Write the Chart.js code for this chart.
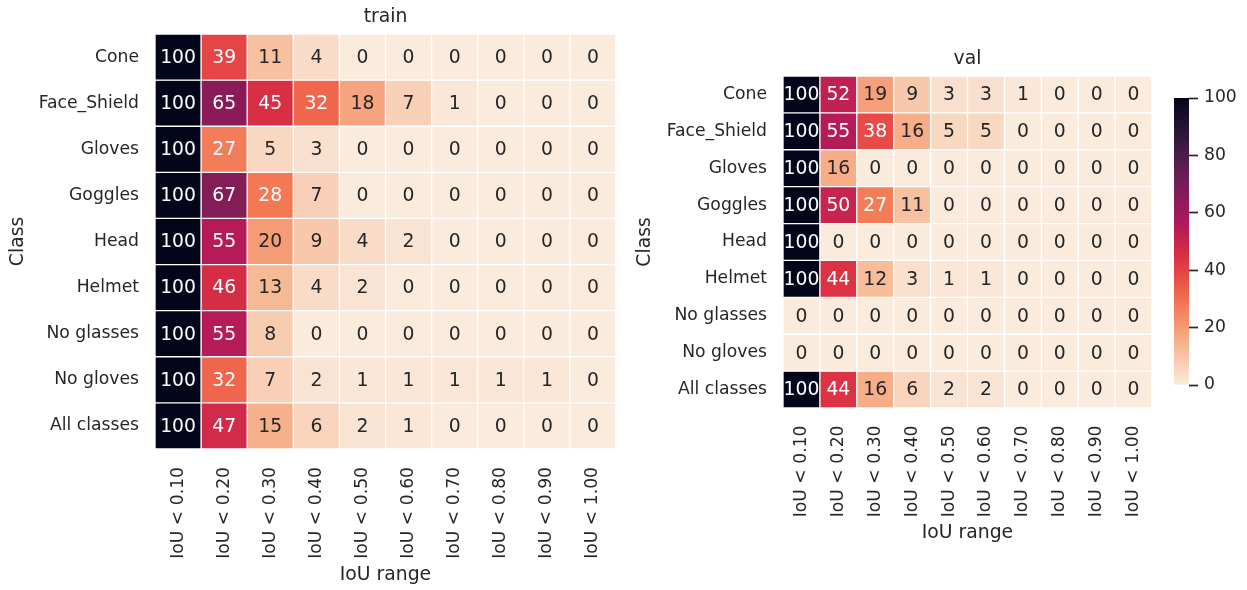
<!DOCTYPE html>
<html>
<head>
<meta charset="utf-8">
<script src="https://cdn.jsdelivr.net/npm/chart.js@4/dist/chart.umd.min.js"></script>
<style>
  html, body { margin: 0; padding: 0; background: #ffffff; }
  #wrap { position: relative; width: 1247px; height: 590px; background: #ffffff; }
  canvas { position: absolute; left: 0; top: 0; }
</style>
</head>
<body>
<div id="wrap">
  <canvas id="train" width="1247" height="590"></canvas>
  <canvas id="val" width="1247" height="590"></canvas>
  <canvas id="cbar" width="1247" height="590"></canvas>
</div>
<script>
// ---------------- data ----------------
const classes = ['Cone', 'Face_Shield', 'Gloves', 'Goggles', 'Head', 'Helmet', 'No glasses', 'No gloves', 'All classes'];
const iouRanges = ['IoU < 0.10', 'IoU < 0.20', 'IoU < 0.30', 'IoU < 0.40', 'IoU < 0.50',
                   'IoU < 0.60', 'IoU < 0.70', 'IoU < 0.80', 'IoU < 0.90', 'IoU < 1.00'];
const trainValues = [
  [100, 39, 11, 4, 0, 0, 0, 0, 0, 0],
  [100, 65, 45, 32, 18, 7, 1, 0, 0, 0],
  [100, 27, 5, 3, 0, 0, 0, 0, 0, 0],
  [100, 67, 28, 7, 0, 0, 0, 0, 0, 0],
  [100, 55, 20, 9, 4, 2, 0, 0, 0, 0],
  [100, 46, 13, 4, 2, 0, 0, 0, 0, 0],
  [100, 55, 8, 0, 0, 0, 0, 0, 0, 0],
  [100, 32, 7, 2, 1, 1, 1, 1, 1, 0],
  [100, 47, 15, 6, 2, 1, 0, 0, 0, 0]
];
const valValues = [
  [100, 52, 19, 9, 3, 3, 1, 0, 0, 0],
  [100, 55, 38, 16, 5, 5, 0, 0, 0, 0],
  [100, 16, 0, 0, 0, 0, 0, 0, 0, 0],
  [100, 50, 27, 11, 0, 0, 0, 0, 0, 0],
  [100, 0, 0, 0, 0, 0, 0, 0, 0, 0],
  [100, 44, 12, 3, 1, 1, 0, 0, 0, 0],
  [0, 0, 0, 0, 0, 0, 0, 0, 0, 0],
  [0, 0, 0, 0, 0, 0, 0, 0, 0, 0],
  [100, 44, 16, 6, 2, 2, 0, 0, 0, 0]
];
const colorbarTicks = [0, 20, 40, 60, 80, 100];
const valueRange = [0, 100];

// ---------------- colour map (seaborn "rocket", reversed) ----------------
const rocketStops = [
  [0.000, [3, 5, 26]],
  [1 / 7, [53, 25, 62]],
  [2 / 7, [112, 31, 87]],
  [3 / 7, [173, 23, 89]],
  [4 / 7, [225, 51, 66]],
  [5 / 7, [243, 118, 81]],
  [6 / 7, [246, 180, 143]],
  [1.000, [250, 235, 221]]
];
function rocket(t) {
  t = Math.max(0, Math.min(1, t));
  for (let i = 1; i < rocketStops.length; i++) {
    const [t1, c1] = rocketStops[i];
    const [t0, c0] = rocketStops[i - 1];
    if (t <= t1) {
      const f = (t - t0) / (t1 - t0);
      return c0.map((v, k) => Math.round(v + (c1[k] - v) * f));
    }
  }
  return rocketStops[rocketStops.length - 1][1];
}
function rgbFor(v) { return rocket(1 - (v - valueRange[0]) / (valueRange[1] - valueRange[0])); }
function colorFor(v) { const c = rgbFor(v); return `rgb(${c[0]},${c[1]},${c[2]})`; }
function textColorFor(v) {
  const lin = rgbFor(v).map(x => { x /= 255; return x <= 0.03928 ? x / 12.92 : Math.pow((x + 0.055) / 1.055, 2.4); });
  const lum = 0.2126 * lin[0] + 0.7152 * lin[1] + 0.0722 * lin[2];
  return lum > 0.408 ? '#262626' : '#ffffff';
}

const FONT = 'DejaVu Sans';
const TXT = '#262626';
const TICK_SIZE = 17.2;
const LABEL_SIZE = 18.8;

const cellTextPlugin = {
  id: 'cellText',
  afterDatasetsDraw(chart, args, opts) {
    const ctx = chart.ctx;
    const vals = opts.values;
    ctx.save();
    ctx.font = `${LABEL_SIZE}px "${FONT}"`;
    ctx.textAlign = 'center';
    ctx.textBaseline = 'middle';
    chart.data.datasets.forEach((ds, r) => {
      const meta = chart.getDatasetMeta(r);
      meta.data.forEach((el, c) => {
        const p = el.getProps(['x', 'y', 'base'], true);
        const v = vals[r][c];
        ctx.fillStyle = textColorFor(v);
        ctx.fillText(String(v), p.x, (p.y + p.base) / 2 + 1);
      });
    });
    ctx.restore();
  }
};

function makeHeatmap(id, title, values, g) {
  const datasets = classes.map((c, r) => ({
    label: c,
    data: iouRanges.map(() => [r - 0.5, r + 0.5]),
    backgroundColor: (ctx) => colorFor(values[r][ctx.dataIndex]),
    borderColor: '#ffffff',
    borderWidth: 1,
    borderSkipped: false,
    grouped: false,
    barPercentage: 1,
    categoryPercentage: 1
  }));
  return new Chart(document.getElementById(id), {
    type: 'bar',
    data: { labels: iouRanges, datasets },
    plugins: [cellTextPlugin],
    options: {
      responsive: false,
      animation: false,
      events: [],
      layout: { padding: g.pad },
      plugins: {
        legend: { display: false },
        tooltip: { enabled: false },
        title: {
          display: true, text: title, fullSize: false, color: TXT,
          font: { family: FONT, size: LABEL_SIZE, weight: 'normal', lineHeight: 1.2 },
          padding: g.titlePad
        },
        cellText: { values }
      },
      scales: {
        x: {
          type: 'category',
          grid: { display: false, drawTicks: false },
          border: { display: false },
          ticks: {
            color: TXT, font: { family: FONT, size: TICK_SIZE },
            minRotation: 90, maxRotation: 90, autoSkip: false, padding: g.xTickPad
          },
          title: {
            display: true, text: 'IoU range', color: TXT,
            font: { family: FONT, size: LABEL_SIZE, lineHeight: 1.2 },
            padding: { top: 0, bottom: 3.7 }
          },
          afterFit: (s) => { s.height = g.xHeight; }
        },
        y: {
          type: 'linear',
          reverse: true,
          min: -0.5,
          max: classes.length - 0.5,
          grid: { display: false, drawTicks: false },
          border: { display: false },
          afterBuildTicks: (s) => { s.ticks = classes.map((c, i) => ({ value: i })); },
          ticks: {
            color: TXT, font: { family: FONT, size: TICK_SIZE }, padding: 16, autoSkip: false,
            callback: (v) => classes[v]
          },
          title: {
            display: true, text: 'Class', color: TXT,
            font: { family: FONT, size: LABEL_SIZE, lineHeight: 1.2 },
            padding: { top: 6.7, bottom: 0 }
          },
          afterFit: (s) => { s.width = g.yWidth; }
        }
      }
    }
  });
}

// Train: area x 155-616, y 34-449
makeHeatmap('train', 'train', trainValues, {
  pad: { left: 0, right: 1247 - 616, top: 0, bottom: 0 },
  titlePad: { top: 5.7, bottom: 5.74 },
  yWidth: 155,
  xHeight: 590 - 449,
  xTickPad: 18
});

// Val: area x 783-1152, y 76-408
makeHeatmap('val', 'val', valValues, {
  pad: { left: 627, right: 1247 - 1152, top: 42, bottom: 41.7 },
  titlePad: { top: 6, bottom: 5.44 },
  yWidth: 783 - 627,
  xHeight: 590 - 41.7 - 408,
  xTickPad: 17.5
});

// Colour bar: area x 1174-1189, y 98-385
new Chart(document.getElementById('cbar'), {
  type: 'bar',
  data: {
    labels: ['scale'],
    datasets: [{
      data: [valueRange],
      barPercentage: 1,
      categoryPercentage: 1,
      borderWidth: 0,
      backgroundColor: (ctx) => {
        const a = ctx.chart.chartArea;
        if (!a) return '#000';
        const grad = ctx.chart.ctx.createLinearGradient(0, a.bottom, 0, a.top);
        for (let i = 0; i <= 20; i++) {
          const v = valueRange[0] + (valueRange[1] - valueRange[0]) * i / 20;
          grad.addColorStop(i / 20, colorFor(v));
        }
        return grad;
      }
    }]
  },
  options: {
    responsive: false,
    animation: false,
    events: [],
    layout: { padding: { left: 1174, right: 1247 - 1189 - 50, top: 98, bottom: 590 - 385 } },
    plugins: { legend: { display: false }, tooltip: { enabled: false } },
    scales: {
      x: { display: false },
      y: {
        position: 'right',
        min: valueRange[0], max: valueRange[1],
        border: { display: false },
        grid: { display: true, drawOnChartArea: false, drawTicks: true, tickLength: 9, tickWidth: 1.7, tickColor: TXT },
        afterBuildTicks: (s) => { s.ticks = colorbarTicks.map(v => ({ value: v })); },
        ticks: { color: TXT, font: { family: FONT, size: TICK_SIZE }, padding: 6 },
        afterFit: (s) => { s.width = 50; }
      }
    }
  }
});
</script>
</body>
</html>
